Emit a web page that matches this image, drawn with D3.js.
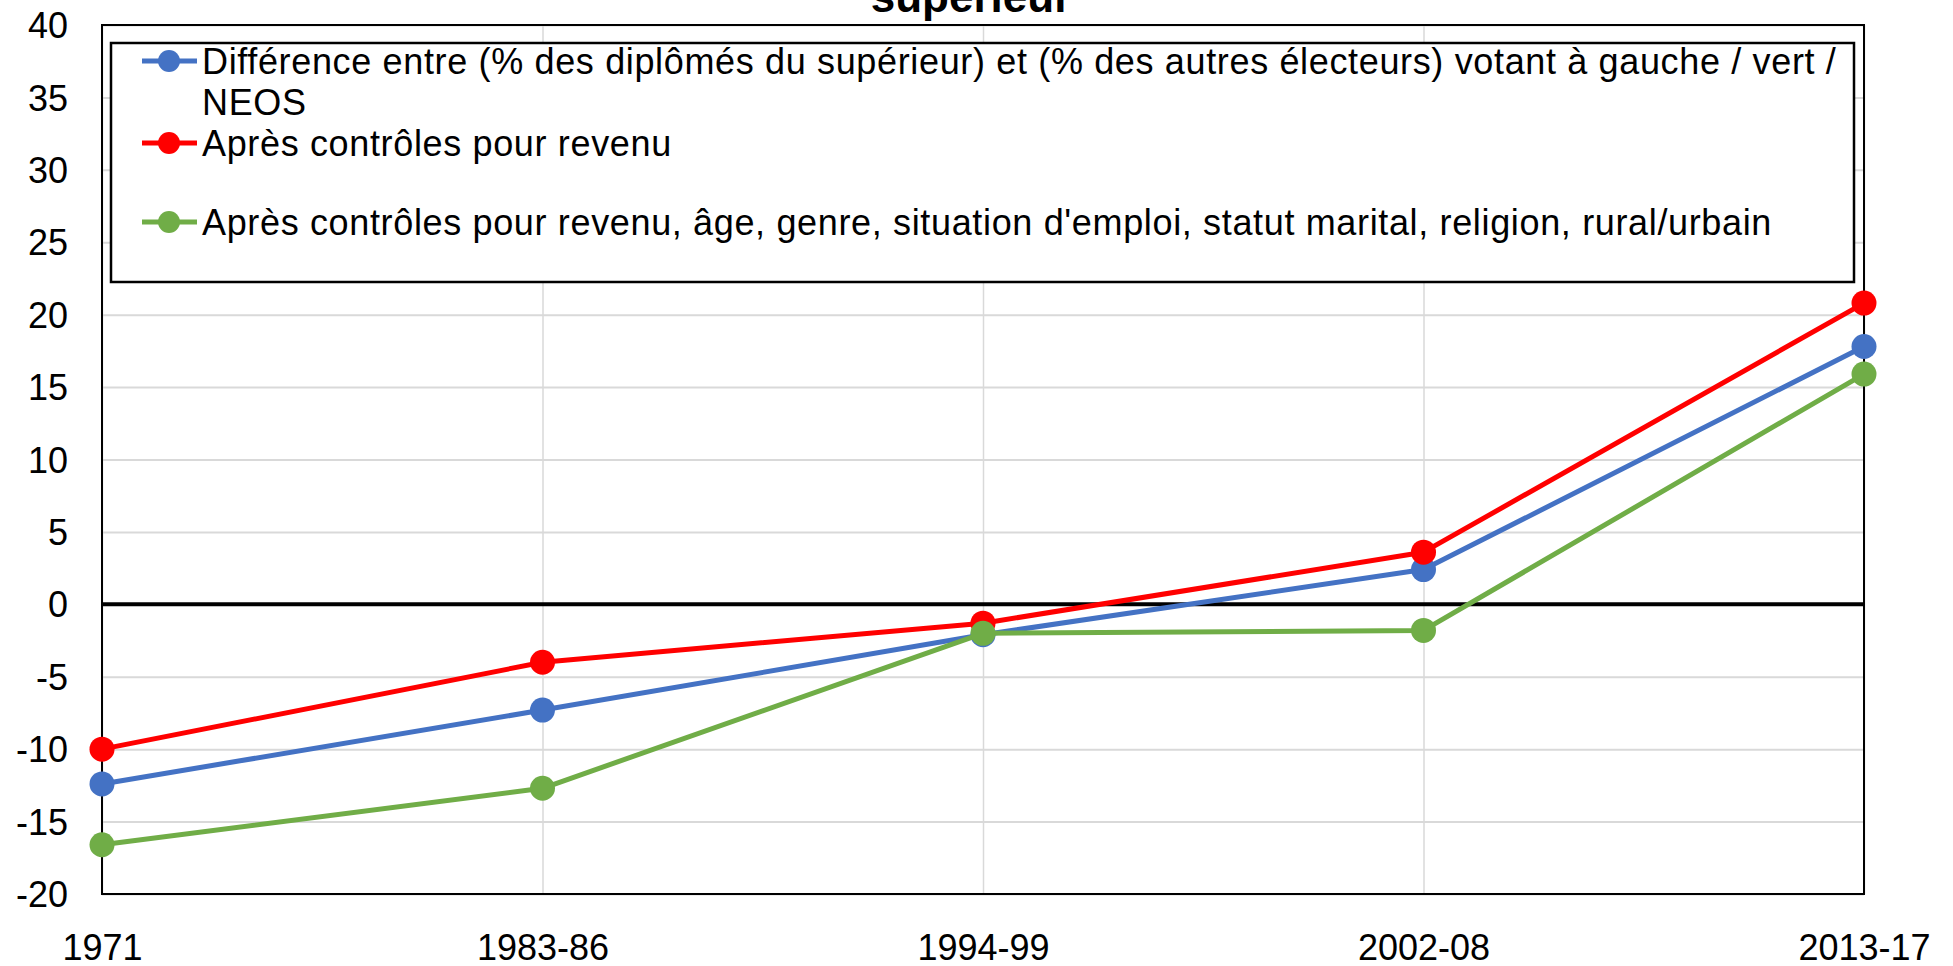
<!DOCTYPE html>
<html>
<head>
<meta charset="utf-8">
<script src="https://cdnjs.cloudflare.com/ajax/libs/d3/7.8.5/d3.min.js"></script>
<style>
  body { margin: 0; background: #fff; }
  text { font-family: "Liberation Sans", Arial, sans-serif; fill: #000; }
</style>
</head>
<body>
<script>
'use strict';

//data
var periods = ['1971', '1983-86', '1994-99', '2002-08', '2013-17'];
var diffValues = [-12.4, -7.3, -2.1, 2.4, 17.8];
var revenuValues = [-10.0, -4.0, -1.3, 3.6, 20.8];
var allControlsValues = [-16.6, -12.7, -2.0, -1.8, 15.9];
var yTicks = [-20, -15, -10, -5, 0, 5, 10, 15, 20, 25, 30, 35, 40];
var seriesNames = [
  ['Différence entre (% des diplômés du supérieur) et (% des autres électeurs) votant à gauche / vert /', 'NEOS'],
  ['Après contrôles pour revenu'],
  ['Après contrôles pour revenu, âge, genre, situation d\'emploi, statut marital, religion, rural/urbain']
];
var seriesColors = ['#4472C4', '#FF0000', '#70AD47'];
var titleText = 'supérieur';

//general setup
var W = 1953, H = 966;
var margin = { top: 25, right: 89, bottom: 72, left: 102 };
var width = W - margin.left - margin.right,
    height = H - margin.top - margin.bottom;
var fontSize = '36px';

var svg = d3.select('body').append('svg').attr('width', W).attr('height', H)
  .append('g').attr('transform', 'translate(' + margin.left + ',' + margin.top + ')');

//scales
var xScale = d3.scalePoint().domain(periods).range([0, width]).padding(0);
var yScale = d3.scaleLinear().domain([-20, 40]).range([height, 0]);

//grid
svg.append('g').call(d3.axisLeft(yScale).tickValues(yTicks).tickSize(-width).tickFormat(''))
  .call(function (g) { g.select('.domain').remove(); })
  .selectAll('line').attr('stroke', '#d9d9d9').attr('stroke-width', 2);
svg.append('g').attr('transform', 'translate(0,' + height + ')')
  .call(d3.axisBottom(xScale).tickSize(-height).tickFormat(''))
  .call(function (g) { g.select('.domain').remove(); })
  .selectAll('line').attr('stroke', '#d9d9d9').attr('stroke-width', 1.5);

//plot frame
svg.append('rect').attr('x', 0).attr('y', 0).attr('width', width).attr('height', height)
  .attr('fill', 'none').attr('stroke', '#000').attr('stroke-width', 2);

//zero line
svg.append('line').attr('x1', 0).attr('x2', width).attr('y1', yScale(0)).attr('y2', yScale(0))
  .attr('stroke', '#000').attr('stroke-width', 4);

//y tick labels (plain hyphen for negatives)
svg.append('g').attr('transform', 'translate(-34,0)')
  .call(d3.axisLeft(yScale).tickValues(yTicks).tickSize(0).tickPadding(0)
    .tickFormat(function (d) { return String(d); }))
  .call(function (g) { g.select('.domain').remove(); })
  .selectAll('text').style('font-size', fontSize).attr('dy', '0.35em');

//x tick labels
svg.append('g').attr('transform', 'translate(0,' + (height + 66) + ')')
  .call(d3.axisBottom(xScale).tickSize(0).tickPadding(0))
  .call(function (g) { g.select('.domain').remove(); })
  .selectAll('text').style('font-size', fontSize).attr('y', 0).attr('dy', 0);

//series
var allSeries = [diffValues, revenuValues, allControlsValues];
var line = d3.line().x(function (d, i) { return xScale(periods[i]); }).y(function (d) { return yScale(d); });

allSeries.forEach(function (values, s) {
  svg.append('path').datum(values).attr('d', line).attr('fill', 'none')
    .attr('stroke', seriesColors[s]).attr('stroke-width', 5).attr('stroke-linejoin', 'round');
  svg.selectAll('.dot' + s).data(values).enter().append('circle').attr('class', 'dot' + s)
    .attr('cx', function (d, i) { return xScale(periods[i]); })
    .attr('cy', function (d) { return yScale(d); })
    .attr('r', 12.5).attr('fill', seriesColors[s]);
});

//legend
var legend = d3.select('svg').append('g');
legend.append('rect').attr('x', 111).attr('y', 43).attr('width', 1743).attr('height', 239)
  .attr('fill', '#fff').attr('stroke', '#000').attr('stroke-width', 2.5);

var legendRows = [61, 143, 222];
seriesNames.forEach(function (lines, s) {
  var cy = legendRows[s];
  legend.append('line').attr('x1', 142).attr('x2', 197).attr('y1', cy).attr('y2', cy)
    .attr('stroke', seriesColors[s]).attr('stroke-width', 5);
  legend.append('circle').attr('cx', 169).attr('cy', cy).attr('r', 11).attr('fill', seriesColors[s]);
  lines.forEach(function (t, k) {
    legend.append('text').attr('x', 202).attr('y', cy + 13 + k * 41)
      .style('font-size', fontSize).style('letter-spacing', '0.65px').text(t);
  });
});

//title (top is cut off)
d3.select('svg').append('text').attr('x', 971).attr('y', 12).attr('text-anchor', 'middle')
  .style('font-size', '44px').style('font-weight', 'bold').text(titleText);
</script>
</body>
</html>
